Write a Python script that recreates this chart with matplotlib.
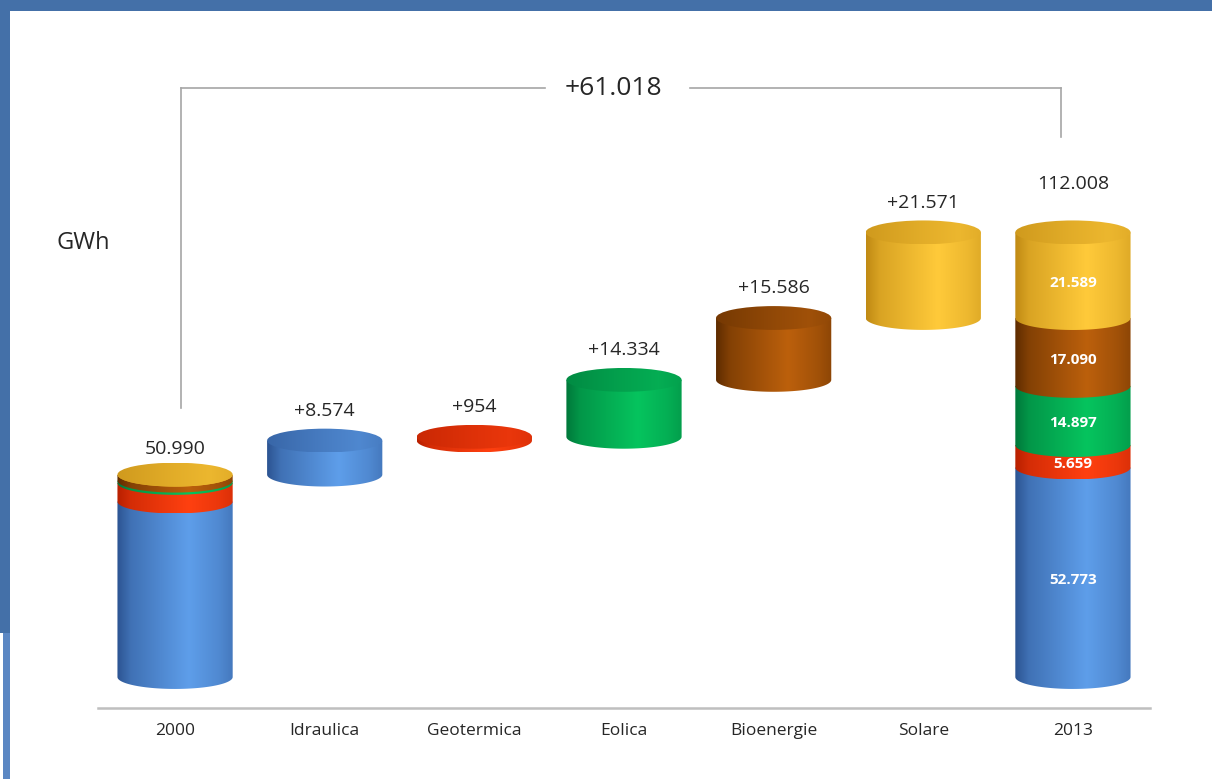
import numpy as np
import matplotlib
matplotlib.use('Agg')
import matplotlib.pyplot as plt
from matplotlib.patches import Polygon, Ellipse, Rectangle
from matplotlib.colors import to_rgb

plt.rcParams['font.family'] = ['Open Sans', 'DejaVu Sans']

# data (GWh)
categories = ['2000', 'Idraulica', 'Geotermica', 'Eolica', 'Bioenergie', 'Solare', '2013']
sources = ['Idraulica', 'Geotermica', 'Eolica', 'Bioenergie', 'Solare']
values_2000 = [44199, 4705, 563, 1504, 19]
values_2013 = [52773, 5659, 14897, 17090, 21589]
deltas = [8574, 954, 14334, 15586, 21571]
total_2000 = 50990
total_2013 = 112008
total_change = 61018

# dark edge, highlight, top face
palette = {
    'Idraulica': ('#2c5492', '#5e9eea', '#4d80c6'),
    'Geotermica': ('#b82000', '#ff4010', '#e23410'),
    'Eolica': ('#00783a', '#06c45e', '#00a24c'),
    'Bioenergie': ('#5e2c00', '#bc600c', '#8c4608'),
    'Solare': ('#c08a14', '#ffca3a', '#e2aa2a'),
}

BAR_W = 0.77
ELL_H = 6000
TXT = '#262626'


def fmt(v, sign=False):
    s = f'{v:,}'.replace(',', '.')
    return ('+' + s) if sign else s


def gradient(dark, light, n=200, soft=False):
    t = np.linspace(0, 1, n)
    if soft:
        p = np.interp(t, [0, 0.5, 0.8, 1.0], [0.25, 0.55, 0.7, 0.55])
    else:
        p = np.interp(t, [0, 0.12, 0.62, 0.88, 1.0], [0.0, 0.4, 1.0, 0.72, 0.5])
    d = np.array(to_rgb(dark))
    l = np.array(to_rgb(light))
    return (d[None, :] + (l - d)[None, :] * p[:, None])[None, :, :]


def draw_segment(ax, x, y0, y1, src, z):
    dark, light, top = palette[src]
    xl, xr = x - BAR_W / 2, x + BAR_W / 2
    ang = np.linspace(np.pi, 2 * np.pi, 80)
    arc = np.column_stack([x + BAR_W / 2 * np.cos(ang), y0 + ELL_H / 2 * np.sin(ang)])
    pts = np.vstack([[xl, y1], arc, [xr, y1]])
    poly = Polygon(pts, closed=True, transform=ax.transData)
    im = ax.imshow(gradient(dark, light), extent=[xl, xr, y0 - ELL_H / 2, y1],
                   aspect='auto', origin='lower', interpolation='bilinear', zorder=z)
    im.set_clip_path(poly)


def draw_top(ax, x, y, src, z):
    dark, light, top = palette[src]
    ell = Ellipse((x, y), BAR_W, ELL_H, transform=ax.transData)
    im = ax.imshow(gradient(dark, light, soft=True),
                   extent=[x - BAR_W / 2, x + BAR_W / 2, y - ELL_H / 2, y + ELL_H / 2],
                   aspect='auto', origin='lower', interpolation='bilinear', zorder=z)
    im.set_clip_path(ell)


fig = plt.figure(figsize=(12.12, 7.79), dpi=100)
ax = fig.add_axes([98 / 1212, 71 / 779, 1052 / 1212, 688 / 779])

# stacked 2000 and 2013
for xi, vals in ((0, values_2000), (6, values_2013)):
    base = 0
    z = 2
    for src, v in zip(sources, vals):
        draw_segment(ax, xi, base, base + v, src, z)
        base += v
        z += 1
    draw_top(ax, xi, base, sources[-1], z)

# waterfall steps
base = total_2000
for i, (src, d) in enumerate(zip(sources, deltas)):
    draw_segment(ax, i + 1, base, base + d, src, 2)
    draw_top(ax, i + 1, base + d, src, 3)
    ax.annotate(fmt(d, sign=True), (i + 1, base + d), xytext=(0, 15),
                textcoords='offset points', ha='center', va='bottom',
                fontsize=14, color=TXT)
    base += d

ax.annotate(fmt(total_2000), (0, total_2000), xytext=(0, 12),
            textcoords='offset points', ha='center', va='bottom',
            fontsize=14, color=TXT)
ax.annotate(fmt(total_2013), (6, total_2013), xytext=(0, 28),
            textcoords='offset points', ha='center', va='bottom',
            fontsize=14, color=TXT)

# values inside 2013 stack
base = 0
for v in values_2013:
    ax.text(6, base + v / 2 - 2000, fmt(v), ha='center', va='center',
            fontsize=11, color='white', fontweight='bold', zorder=20)
    base += v

# bracket showing total change
lc = '#a6a6a6'
yb = 148300
ax.plot([0.04, 0.04], [total_2000 + 16800, yb], color=lc, lw=1.2, zorder=1)
ax.plot([0.04, 2.47], [yb, yb], color=lc, lw=1.2, zorder=1)
ax.plot([3.44, 5.92], [yb, yb], color=lc, lw=1.2, zorder=1)
ax.plot([5.92, 5.92], [yb, total_2013 + 24000], color=lc, lw=1.2, zorder=1)
ax.text(2.93, yb, fmt(total_change, sign=True), ha='center', va='center',
        fontsize=19, color=TXT)

ax.set_xlim(-0.515, 6.515)
ax.set_ylim(-7800, 165500)
ax.set_xticks(range(len(categories)))
ax.set_xticklabels(categories, fontsize=12.5, color=TXT)
ax.set_yticks([])
ax.tick_params(axis='x', length=0, pad=11)
for s in ('left', 'right', 'top'):
    ax.spines[s].set_visible(False)
ax.spines['bottom'].set_color('#bfbfbf')
ax.spines['bottom'].set_linewidth(1.8)

fig.text(56 / 1212, 1 - 243 / 779, 'GWh', fontsize=17, color=TXT,
         ha='left', va='center')

# blue frame
fig.add_artist(Rectangle((0, 1 - 11 / 779), 1, 11 / 779, transform=fig.transFigure,
                         color='#4470a8', lw=0))
fig.add_artist(Rectangle((0, 1 - 633 / 779), 10 / 1212, 633 / 779, transform=fig.transFigure,
                         color='#4470a8', lw=0))
fig.add_artist(Rectangle((3 / 1212, 0), 7 / 1212, 1 - 633 / 779, transform=fig.transFigure,
                         color='#5b87c3', lw=0))

fig.savefig('out.png', dpi=100)
